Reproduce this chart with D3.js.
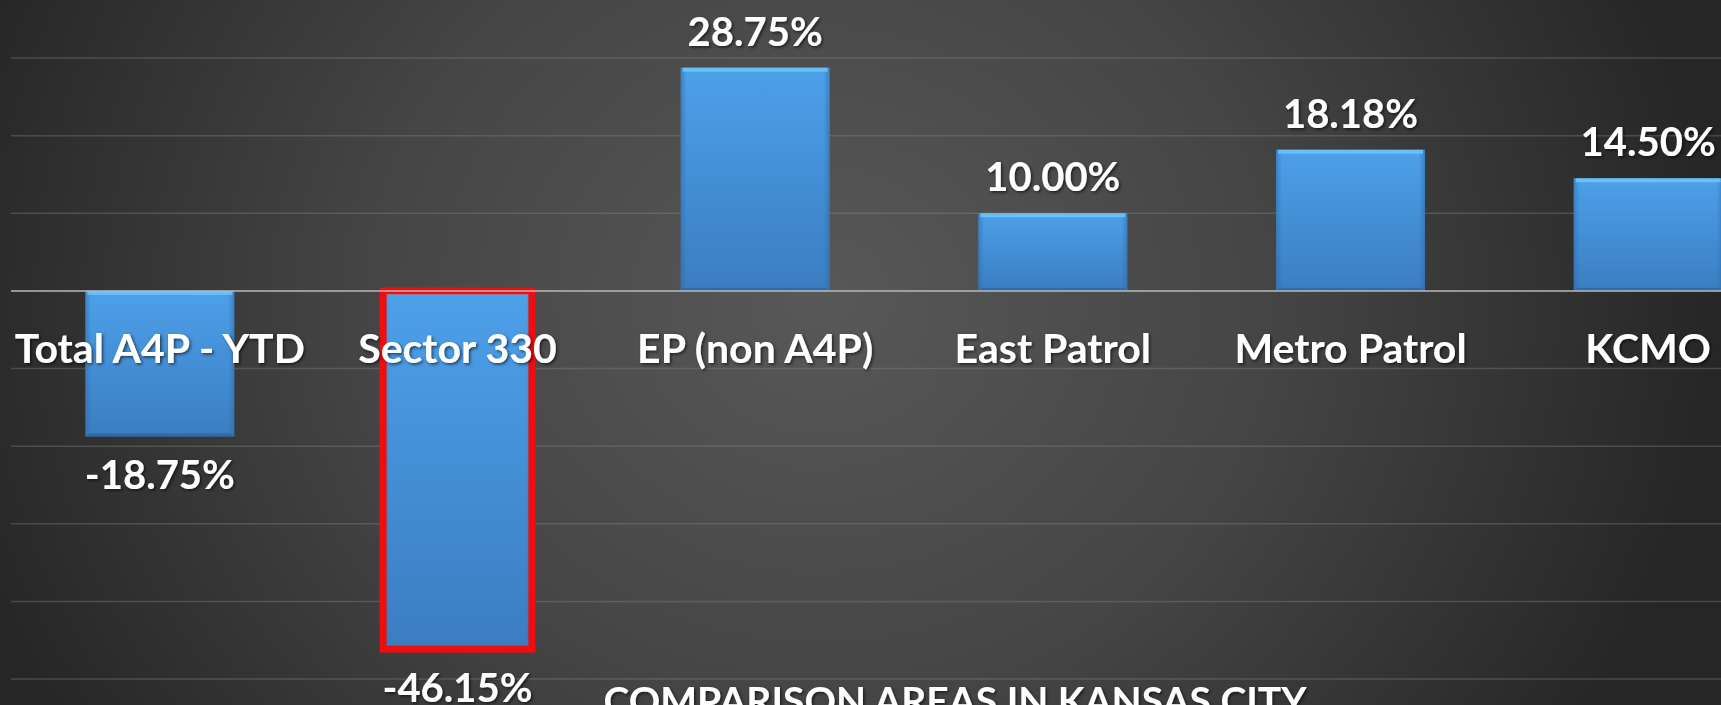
<!DOCTYPE html>
<html>
<head>
<meta charset="utf-8">
<script src="https://cdn.jsdelivr.net/npm/d3@7"></script>
<style>
  html, body { margin: 0; padding: 0; background: #333; overflow: hidden; }
  svg { display: block; font-family: Lato, "Open Sans", sans-serif; }
</style>
</head>
<body>
<svg id="chart"></svg>
<script>
const width = 1721;
const height = 705;

// data
const categories = ["Total A4P - YTD", "Sector 330", "EP (non A4P)", "East Patrol", "Metro Patrol", "KCMO"];
const values = [-18.75, -46.15, 28.75, 10.00, 18.18, 14.50];
const gridTicks = [-50, -40, -30, -20, -10, 0, 10, 20, 30];
const highlighted = ["Sector 330"];
const axisTitle = "COMPARISON AREAS IN KANSAS CITY";

const data = categories.map((c, i) => ({ name: c, value: values[i] }));

const svg = d3.select("#chart")
  .attr("width", width)
  .attr("height", height);

const defs = svg.append("defs");

// dark slide background, lighter in the middle
const bg = defs.append("radialGradient")
  .attr("id", "bg")
  .attr("gradientUnits", "userSpaceOnUse")
  .attr("cx", 820).attr("cy", 300).attr("r", 900)
  .attr("gradientTransform", "translate(820,300) scale(1,0.9) translate(-820,-300)");
bg.append("stop").attr("offset", "0%").attr("stop-color", "#585858");
bg.append("stop").attr("offset", "50%").attr("stop-color", "#454545");
bg.append("stop").attr("offset", "100%").attr("stop-color", "#262626");

// bar fill
const barGrad = defs.append("linearGradient")
  .attr("id", "barFill")
  .attr("x1", 0).attr("y1", 0).attr("x2", 0).attr("y2", 1);
barGrad.append("stop").attr("offset", "0%").attr("stop-color", "#4da0ea");
barGrad.append("stop").attr("offset", "100%").attr("stop-color", "#3b7dc1");

const sideGrad = defs.append("linearGradient")
  .attr("id", "barSide")
  .attr("x1", 0).attr("y1", 0).attr("x2", 1).attr("y2", 0);
sideGrad.append("stop").attr("offset", "0%").attr("stop-color", "#2f6aa6").attr("stop-opacity", 0.55);
sideGrad.append("stop").attr("offset", "4%").attr("stop-color", "#2f6aa6").attr("stop-opacity", 0);
sideGrad.append("stop").attr("offset", "96%").attr("stop-color", "#2f6aa6").attr("stop-opacity", 0);
sideGrad.append("stop").attr("offset", "100%").attr("stop-color", "#2f6aa6").attr("stop-opacity", 0.55);

const shadow = defs.append("filter").attr("id", "txtShadow")
  .attr("x", "-10%").attr("y", "-20%").attr("width", "120%").attr("height", "150%");
shadow.append("feDropShadow")
  .attr("dx", 1.5).attr("dy", 1.5).attr("stdDeviation", 1.5)
  .attr("flood-color", "#000").attr("flood-opacity", 0.6);

svg.append("rect")
  .attr("width", width)
  .attr("height", height)
  .attr("fill", "url(#bg)");

const x = d3.scaleBand()
  .domain(categories)
  .range([11, 1797])
  .paddingInner(0.5)
  .paddingOuter(0.25);

const y = d3.scaleLinear()
  .domain([-50, 30])
  .range([679, 58]);

// gridlines
svg.append("g")
  .selectAll("line")
  .data(gridTicks.filter(d => d !== 0))
  .join("line")
  .attr("x1", 11)
  .attr("x2", width)
  .attr("y1", d => y(d))
  .attr("y2", d => y(d))
  .attr("stroke", "#8a8a8a")
  .attr("stroke-opacity", 0.35)
  .attr("stroke-width", 1.5);

// bars
const bars = svg.append("g")
  .selectAll("g")
  .data(data)
  .join("g");

bars.append("rect")
  .attr("x", d => x(d.name))
  .attr("y", d => y(Math.max(0, d.value)))
  .attr("width", x.bandwidth())
  .attr("height", d => Math.abs(y(d.value) - y(0)))
  .attr("fill", "url(#barFill)");

bars.append("rect")
  .attr("x", d => x(d.name))
  .attr("y", d => y(Math.max(0, d.value)))
  .attr("width", x.bandwidth())
  .attr("height", d => Math.abs(y(d.value) - y(0)))
  .attr("fill", "url(#barSide)");

// light top bevel
bars.append("rect")
  .attr("x", d => x(d.name) + 2)
  .attr("y", d => y(Math.max(0, d.value)))
  .attr("width", x.bandwidth() - 4)
  .attr("height", 4)
  .attr("fill", "#6cc4f6")
  .attr("opacity", 0.9);

// dark bottom bevel
bars.append("rect")
  .attr("x", d => x(d.name) + 2)
  .attr("y", d => y(Math.min(0, d.value)) - 3)
  .attr("width", x.bandwidth() - 4)
  .attr("height", 3)
  .attr("fill", "#2f679f")
  .attr("opacity", 0.8);

// red outline on highlighted bar
bars.filter(d => highlighted.includes(d.name))
  .append("rect")
  .attr("x", d => x(d.name))
  .attr("y", d => y(Math.max(0, d.value)))
  .attr("width", x.bandwidth())
  .attr("height", d => Math.abs(y(d.value) - y(0)))
  .attr("fill", "none")
  .attr("stroke", "#f00d0d")
  .attr("stroke-width", 7);

// zero line
svg.append("line")
  .attr("x1", 11)
  .attr("x2", width)
  .attr("y1", y(0))
  .attr("y2", y(0))
  .attr("stroke", "#b8b8b8")
  .attr("stroke-width", 1.5);

// category labels sit just under the zero line
svg.append("g")
  .selectAll("text")
  .data(categories)
  .join("text")
  .attr("x", d => x(d) + x.bandwidth() / 2)
  .attr("y", y(0) + 72)
  .attr("text-anchor", "middle")
  .attr("fill", "#fff")
  .attr("font-size", 41)
  .attr("font-weight", 700)
  .attr("filter", "url(#txtShadow)")
  .text(d => d);

// value labels
svg.append("g")
  .selectAll("text")
  .data(data)
  .join("text")
  .attr("x", d => x(d.name) + x.bandwidth() / 2)
  .attr("y", d => d.value >= 0 ? y(d.value) - 22 : y(d.value) + 53)
  .attr("text-anchor", "middle")
  .attr("fill", "#fff")
  .attr("font-size", 40)
  .attr("font-weight", 700)
  .attr("filter", "url(#txtShadow)")
  .text(d => d.value.toFixed(2) + "%");

// axis title, cut off by the bottom edge as in the original slide
svg.append("text")
  .attr("x", 955)
  .attr("y", 715)
  .attr("text-anchor", "middle")
  .attr("fill", "#fff")
  .attr("font-size", 39)
  .attr("font-weight", 700)
  .attr("filter", "url(#txtShadow)")
  .text(axisTitle);
</script>
</body>
</html>
